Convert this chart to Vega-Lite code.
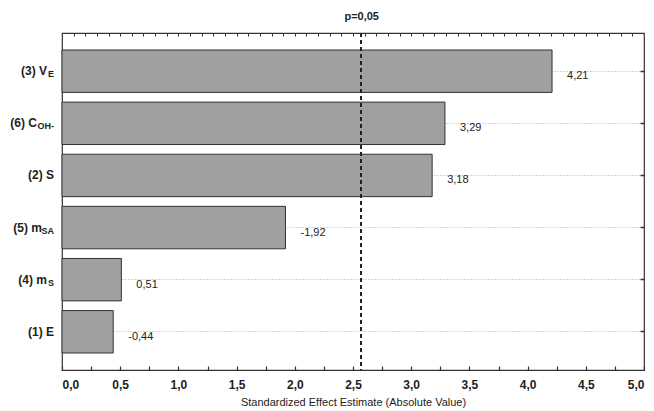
{
  "$schema": "https://vega.github.io/schema/vega-lite/v6.json",
  "width": 582,
  "height": 337,
  "autosize": {"type": "none"},
  "padding": {"left": 62, "top": 33, "right": 10, "bottom": 41},
  "config": {
    "view": {"stroke": "#333333", "strokeWidth": 1.2},
    "font": "Liberation Sans",
    "axis": {"labelFont": "Liberation Sans", "titleFont": "Liberation Sans"}
  },
  "data": {
    "values": [
      {"factor": "(3) VE", "main": "(3) V", "sub": "E", "effect": 4.21, "abs": 4.21, "txt": "4,21"},
      {"factor": "(6) COH-", "main": "(6) C", "sub": "OH-", "effect": 3.29, "abs": 3.29, "txt": "3,29"},
      {"factor": "(2) S", "main": "(2) S", "sub": "", "effect": 3.18, "abs": 3.18, "txt": "3,18"},
      {"factor": "(5) mSA", "main": "(5) m", "sub": "SA", "effect": -1.92, "abs": 1.92, "txt": "-1,92"},
      {"factor": "(4) mS", "main": "(4) m", "sub": "S", "effect": 0.51, "abs": 0.51, "txt": "0,51"},
      {"factor": "(1) E", "main": "(1) E", "sub": "", "effect": -0.44, "abs": 0.44, "txt": "-0,44"}
    ]
  },
  "layer": [
    {
      "mark": {"type": "bar", "fill": "#a0a0a0", "stroke": "#333333", "strokeWidth": 1},
      "encoding": {
        "y": {
          "field": "factor", "type": "nominal",
          "sort": ["(3) VE", "(6) COH-", "(2) S", "(5) mSA", "(4) mS", "(1) E"],
          "scale": {"paddingInner": 0.186, "paddingOuter": 0.326},
          "axis": {"orient": "left", "labels": false, "ticks": false, "domain": false, "title": null,
                   "grid": true, "gridDash": [1, 2], "gridColor": "#aaaaaa", "gridWidth": 1}
        },
        "x": {
          "field": "abs", "type": "quantitative",
          "scale": {"domain": [0, 5], "nice": false, "zero": true},
          "axis": {
            "orient": "bottom",
            "values": [0, 0.25, 0.5, 0.75, 1, 1.25, 1.5, 1.75, 2, 2.25, 2.5, 2.75, 3, 3.25, 3.5, 3.75, 4, 4.25, 4.5, 4.75, 5],
            "labelExpr": "datum.value * 2 == round(datum.value * 2) ? replace(format(datum.value, '.1f'), '.', ',') : ''",
            "labelOverlap": false,
            "grid": false, "domain": false, "offset": -4,
            "tickSize": 4, "tickColor": "#333333", "tickWidth": 1.2,
            "labelPadding": 9, "labelFontSize": 12, "labelColor": "#222222", "labelFontWeight": "bold",
            "title": "Standardized Effect Estimate (Absolute Value)",
            "titleFontSize": 11, "titleFontWeight": "normal", "titleColor": "#222222", "titlePadding": 6
          }
        }
      }
    },
    {
      "mark": {"type": "rule", "strokeDash": [4, 3], "color": "#222222", "strokeWidth": 1.3},
      "encoding": {
        "x": {
          "datum": 2.5706, "type": "quantitative",
          "axis": {
            "orient": "top", "title": null, "domain": false, "grid": false, "offset": -3,
            "values": [0.1, 0.2, 0.3, 0.4, 0.5, 0.6, 0.7, 0.8, 0.9, 1, 1.1, 1.2, 1.3, 1.4, 1.5, 1.6, 1.7, 1.8, 1.9, 2, 2.1, 2.2, 2.3, 2.4, 2.5, 2.5706, 2.6, 2.7, 2.8, 2.9, 3, 3.1, 3.2, 3.3, 3.4, 3.5, 3.6, 3.7, 3.8, 3.9, 4, 4.1, 4.2, 4.3, 4.4, 4.5, 4.6, 4.7, 4.8, 4.9],
            "labelExpr": "abs(datum.value - 2.5706) < 0.001 ? 'p=0,05' : ''",
            "labelOverlap": false, "labelFlush": false,
            "tickSize": 3, "tickColor": "#333333",
            "labelPadding": 12, "labelFontSize": 11, "labelColor": "#222222", "labelFontWeight": "bold"
          }
        }
      }
    },
    {
      "mark": {"type": "text", "align": "left", "baseline": "middle", "dx": 15, "dy": 5, "fontSize": 11, "color": "#222222"},
      "encoding": {
        "y": {
          "field": "factor", "type": "nominal",
          "sort": ["(3) VE", "(6) COH-", "(2) S", "(5) mSA", "(4) mS", "(1) E"],
          "axis": {"orient": "right", "labels": false, "domain": false, "title": null, "grid": false,
                   "offset": -4, "tickSize": 4, "tickColor": "#333333", "tickWidth": 1.5}
        },
        "x": {"field": "abs", "type": "quantitative", "axis": null},
        "text": {"field": "txt"}
      }
    },
    {
      "transform": [{"filter": "datum.sub == ''"}],
      "mark": {"type": "text", "align": "right", "baseline": "middle", "dx": -8, "fontSize": 12, "fontWeight": "bold", "color": "#222222"},
      "encoding": {
        "y": {"field": "factor", "type": "nominal", "sort": ["(3) VE", "(6) COH-", "(2) S", "(5) mSA", "(4) mS", "(1) E"], "axis": null},
        "x": {"datum": 0, "type": "quantitative", "axis": null},
        "text": {"field": "main"}
      }
    },
    {
      "transform": [{"filter": "datum.sub == 'E' || datum.sub == 'S'"}],
      "mark": {"type": "text", "align": "right", "baseline": "middle", "dx": -15, "fontSize": 12, "fontWeight": "bold", "color": "#222222"},
      "encoding": {
        "y": {"field": "factor", "type": "nominal", "sort": ["(3) VE", "(6) COH-", "(2) S", "(5) mSA", "(4) mS", "(1) E"], "axis": null},
        "x": {"datum": 0, "type": "quantitative", "axis": null},
        "text": {"field": "main"}
      }
    },
    {
      "transform": [{"filter": "datum.sub == 'SA'"}],
      "mark": {"type": "text", "align": "right", "baseline": "middle", "dx": -20, "fontSize": 12, "fontWeight": "bold", "color": "#222222"},
      "encoding": {
        "y": {"field": "factor", "type": "nominal", "sort": ["(3) VE", "(6) COH-", "(2) S", "(5) mSA", "(4) mS", "(1) E"], "axis": null},
        "x": {"datum": 0, "type": "quantitative", "axis": null},
        "text": {"field": "main"}
      }
    },
    {
      "transform": [{"filter": "datum.sub == 'OH-'"}],
      "mark": {"type": "text", "align": "right", "baseline": "middle", "dx": -25, "fontSize": 12, "fontWeight": "bold", "color": "#222222"},
      "encoding": {
        "y": {"field": "factor", "type": "nominal", "sort": ["(3) VE", "(6) COH-", "(2) S", "(5) mSA", "(4) mS", "(1) E"], "axis": null},
        "x": {"datum": 0, "type": "quantitative", "axis": null},
        "text": {"field": "main"}
      }
    },
    {
      "transform": [{"filter": "datum.sub != ''"}],
      "mark": {"type": "text", "align": "right", "baseline": "middle", "dx": -8, "dy": 3, "fontSize": 9, "fontWeight": "bold", "color": "#222222"},
      "encoding": {
        "y": {"field": "factor", "type": "nominal", "sort": ["(3) VE", "(6) COH-", "(2) S", "(5) mSA", "(4) mS", "(1) E"], "axis": null},
        "x": {"datum": 0, "type": "quantitative", "axis": null},
        "text": {"field": "sub"}
      }
    }
  ],
  "resolve": {"axis": {"x": "independent", "y": "independent"}}
}
